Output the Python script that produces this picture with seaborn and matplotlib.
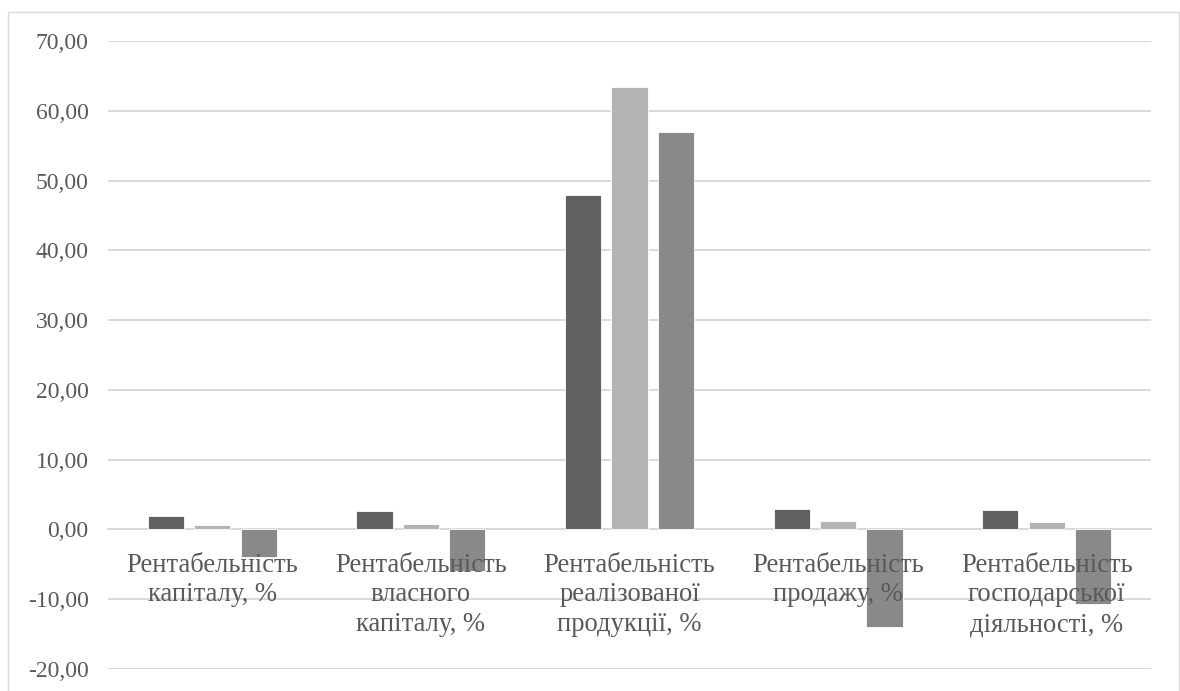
import matplotlib
matplotlib.use("Agg")
import matplotlib.pyplot as plt
import matplotlib.patches as mpatches
from matplotlib.ticker import FuncFormatter
import seaborn as sns
import pandas as pd

# Profitability indicators (three periods per indicator)
categories = [
    "Рентабельність\nкапіталу, %",
    "Рентабельність\nвласного\nкапіталу, %",
    "Рентабельність\nреалізованої\nпродукції, %",
    "Рентабельність\nпродажу, %",
    "Рентабельність\nгосподарської\nдіяльності, %",
]
periods = ["P1", "P2", "P3"]
values_p1 = [1.9, 2.6, 48.0, 2.9, 2.7]
values_p2 = [0.6, 0.8, 63.5, 1.15, 1.0]
values_p3 = [-4.0, -6.0, 57.0, -14.0, -10.7]
y_ticks = [-20, -10, 0, 10, 20, 30, 40, 50, 60, 70]

colors = ["#606060", "#b3b3b3", "#898989"]
text_color = "#595959"
grid_color = "#d9d9d9"

df = pd.DataFrame({
    "category": categories * 3,
    "period": [periods[0]] * 5 + [periods[1]] * 5 + [periods[2]] * 5,
    "value": values_p1 + values_p2 + values_p3,
})

sns.set_theme(style="white")
plt.rcParams["font.family"] = ["Liberation Serif", "DejaVu Serif"]

fig = plt.figure(figsize=(11.8, 6.91), dpi=100)
ax = fig.add_axes([108 / 1180, 1 - 668.7 / 691, (1151 - 108) / 1180, (668.7 - 41.3) / 691])

sns.barplot(
    data=df, x="category", y="value", hue="period",
    palette=colors, width=0.667, gap=0.22,
    edgecolor="white", linewidth=0.6, legend=False, ax=ax, zorder=3,
)

ax.set_ylim(-20, 70)
ax.set_xlim(-0.5, 4.5)
ax.set_yticks(y_ticks)
ax.yaxis.set_major_formatter(FuncFormatter(lambda v, _: f"{v:.2f}".replace(".", ",")))
ax.grid(axis="y", color=grid_color, linewidth=1.4, zorder=0)
ax.grid(axis="x", visible=False)
ax.set_axisbelow(True)

for side in ["top", "right", "left"]:
    ax.spines[side].set_visible(False)
ax.spines["bottom"].set_position(("data", 0))
ax.spines["bottom"].set_color(grid_color)
ax.spines["bottom"].set_linewidth(1.4)
ax.spines["bottom"].set_zorder(2)

ax.tick_params(axis="y", length=0, pad=14, labelsize=17, labelcolor=text_color)
ax.tick_params(axis="x", length=0, pad=17, labelsize=19.2, labelcolor=text_color)
for lbl in ax.get_xticklabels():
    lbl.set_linespacing(1.24)
# category labels sit on top of the bars
ax.xaxis.set_zorder(5)
ax.set_xlabel("")
ax.set_ylabel("")

# Chart-area frame
frame = mpatches.Rectangle(
    (8 / 1180, -0.02), (1179 - 8) / 1180, 1.02 - 12 / 691,
    transform=fig.transFigure, fill=False, edgecolor=grid_color, linewidth=1.0,
)
fig.patches.append(frame)

fig.savefig("out.png", dpi=100)
